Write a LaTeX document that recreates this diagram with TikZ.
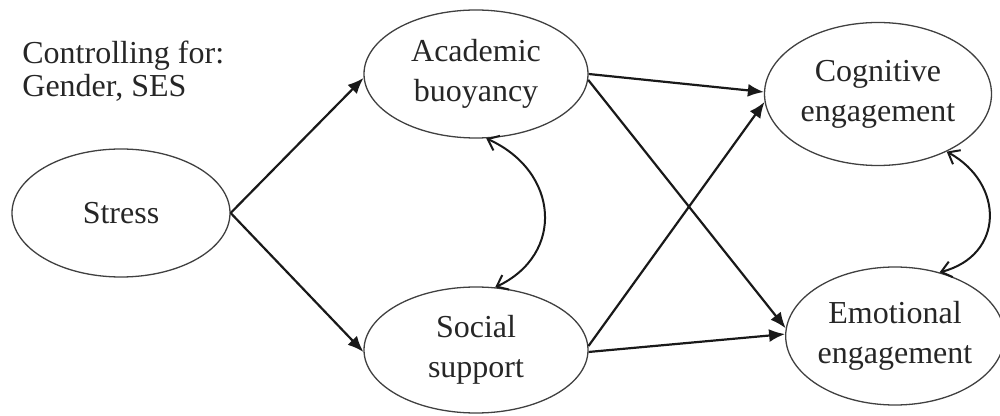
\documentclass[tikz,border=0pt]{standalone}
\usepackage{fontspec}
\setmainfont{Liberation Serif}
\usetikzlibrary{arrows.meta,shapes.geometric}
\begin{document}
\begin{tikzpicture}[x=0.5pt,y=-0.5pt,
  var/.style={draw=black!75,line width=0.65pt,ellipse,inner sep=0pt,align=center,
    font=\fontsize{16}{20}\selectfont,text=black!85},
  path/.style={draw=black!90,line width=1.1pt,-{Latex[length=8pt,width=6.5pt]}},
  cov/.style={draw=black!90,line width=1pt,{Straight Barb[length=5pt,width=8pt]}-{Straight Barb[length=5pt,width=8pt]}}]
\useasboundingbox (0,0) rectangle (1000,416);
\node[var,minimum width=109pt,minimum height=64pt] (stress) at (121,213) {Stress};
\node[var,minimum width=112pt,minimum height=64pt] (acad) at (476,74) {Academic\\buoyancy};
\node[var,minimum width=112pt,minimum height=63pt] (social) at (476,350) {Social\\support};
\node[var,minimum width=113.5pt,minimum height=71.5pt] (cog) at (878,94) {Cognitive\\engagement};
\node[var,minimum width=107pt,minimum height=69pt] (emo) at (895,336) {Emotional\\engagement};
\node[anchor=north west,inner sep=0pt,align=left,text=black!85,
  font=\fontsize{16}{16.5}\selectfont] (ctrl) at (22,41) {Controlling for:\\Gender, SES};
\draw[path] (stress.east) -- (acad.182);
\draw[path] (stress.east) -- (social.181);
\draw[path] (acad.east) -- (cog.179);
\draw[path] (acad.-3) -- (emo.176);
\draw[path] (social.2) -- (cog.184);
\draw[path] (social.-1) -- (emo.179);
\draw[cov] (acad.-81) .. controls +(73,33) and +(70,-33) .. (social.73);
\draw[cov] (cog.-40) .. controls +(58,32) and +(65,-17) .. (emo.55);
\end{tikzpicture}
\end{document}
